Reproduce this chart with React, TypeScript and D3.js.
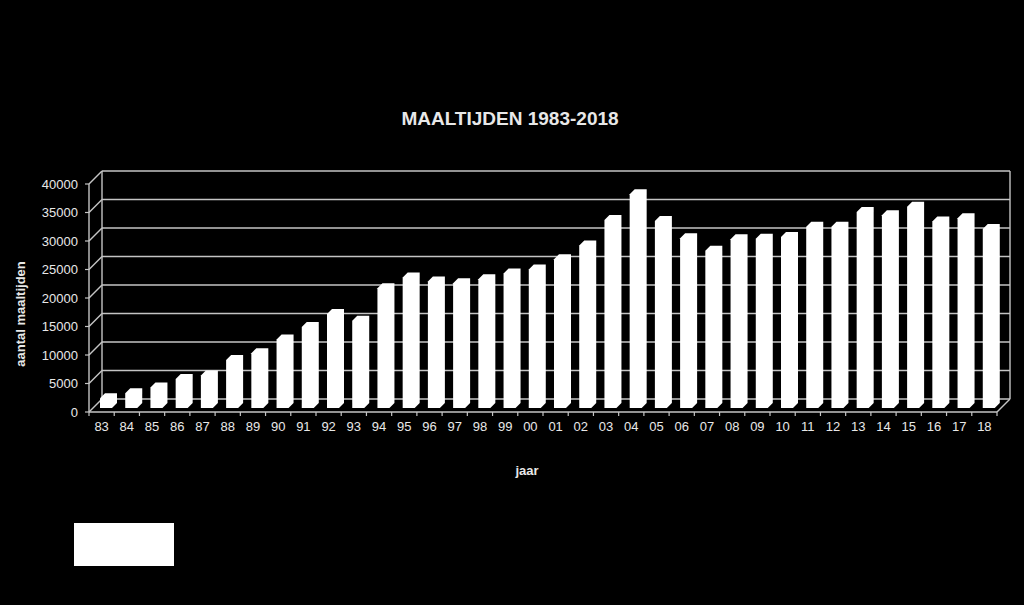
import React from 'react';
import * as d3 from 'd3';

const years = ['83', '84', '85', '86', '87', '88', '89', '90', '91', '92', '93', '94', '95', '96', '97', '98', '99', '00', '01', '02', '03', '04', '05', '06', '07', '08', '09', '10', '11', '12', '13', '14', '15', '16', '17', '18'];
const meals = [1700, 2600, 3600, 5100, 5700, 8400, 9600, 12000, 14200, 16500, 15300, 21000, 22900, 22200, 21900, 22600, 23600, 24300, 26100, 28500, 33000, 37500, 32800, 29800, 27600, 29600, 29700, 30000, 31800, 31800, 34400, 33800, 35300, 32700, 33300, 31400];
const yTicks = [0, 5000, 10000, 15000, 20000, 25000, 30000, 35000, 40000];

const W = 1024;
const H = 605;
const FONT = '"Liberation Sans", Arial, sans-serif';
const GRID = '#c4c4c4';
const TEXT = '#e8e8e8';

// front plane of the 3d box, and how far back the wall sits
const left = 89;
const right = 997;
const bottom = 412;
const top = 184;
const depth = 13;

// bar geometry (front face inset, face width, bar depth)
const inset = 4;
const barW = 12;
const barD = 5;

const App = () => {
  const x = d3.scaleBand<string>().domain(years).range([left, right]);
  const y = d3.scaleLinear().domain([0, 40000]).range([bottom, top]);

  const barPath = (yr: string, v: number) => {
    const x0 = (x(yr) as number) + inset + 7;
    const yb = bottom - inset;
    const h = y(0) - y(v);
    const yt = yb - h;
    const p = d3.path();
    p.moveTo(x0, yb);
    p.lineTo(x0, yt);
    p.lineTo(x0 + barD, yt - barD);
    p.lineTo(x0 + barW + barD, yt - barD);
    p.lineTo(x0 + barW + barD, yb - barD);
    p.lineTo(x0 + barW, yb);
    p.closePath();
    return p.toString();
  };

  return (
    <svg width={W} height={H} style={{ position: 'absolute', left: 0, top: 0, background: '#000' }}>
      <rect width={W} height={H} fill="#000" />
      <text x={510} y={125} textAnchor="middle" fill={TEXT} fontFamily={FONT} fontWeight="bold" fontSize={19}>
        MAALTIJDEN 1983-2018
      </text>

      {/* back wall gridlines */}
      {yTicks.map((t) => (
        <line key={'g' + t} x1={left + depth} x2={right + depth} y1={y(t) - depth} y2={y(t) - depth} stroke={GRID} strokeWidth={1.6} />
      ))}
      {/* side wall diagonals */}
      {yTicks.map((t) => (
        <line key={'d' + t} x1={left} x2={left + depth} y1={y(t)} y2={y(t) - depth} stroke={GRID} strokeWidth={1.4} />
      ))}
      <line x1={left + depth} x2={left + depth} y1={y(40000) - depth} y2={y(0) - depth} stroke={GRID} strokeWidth={1.4} />
      <line x1={right + depth} x2={right + depth} y1={y(40000) - depth} y2={y(0) - depth} stroke={GRID} strokeWidth={1.4} />

      {/* front value axis */}
      <line x1={left} x2={left} y1={y(40000)} y2={y(0)} stroke={GRID} strokeWidth={1.4} />
      {yTicks.map((t) => (
        <g key={'t' + t}>
          <line x1={left - 4} x2={left} y1={y(t)} y2={y(t)} stroke={GRID} strokeWidth={1.2} />
          <text x={78} y={y(t)} dy="0.35em" textAnchor="end" fill={TEXT} fontFamily={FONT} fontSize={13}>
            {t}
          </text>
        </g>
      ))}

      {/* bars */}
      {years.map((yr, i) => (
        <path key={yr} d={barPath(yr, meals[i])} fill="#ffffff" />
      ))}

      {/* floor edges */}
      <line x1={left} x2={right} y1={bottom} y2={bottom} stroke={GRID} strokeWidth={1.4} />
      <line x1={right} x2={right + depth} y1={bottom} y2={bottom - depth} stroke={GRID} strokeWidth={1.4} />
      {years.map((yr) => (
        <line key={'xt' + yr} x1={x(yr) as number} x2={x(yr) as number} y1={bottom} y2={bottom + 4} stroke={GRID} strokeWidth={1.2} />
      ))}
      <line x1={right} x2={right} y1={bottom} y2={bottom + 4} stroke={GRID} strokeWidth={1.2} />
      {years.map((yr) => (
        <text key={'xl' + yr} x={(x(yr) as number) + x.bandwidth() / 2} y={431} textAnchor="middle" fill={TEXT} fontFamily={FONT} fontSize={13}>
          {yr}
        </text>
      ))}

      <text x={527} y={475} textAnchor="middle" fill={TEXT} fontFamily={FONT} fontWeight="bold" fontSize={13}>
        jaar
      </text>
      <text transform="translate(25,314) rotate(-90)" textAnchor="middle" fill={TEXT} fontFamily={FONT} fontWeight="bold" fontSize={13}>
        aantal maaltijden
      </text>

      <rect x={74} y={523} width={100} height={43} fill="#ffffff" />
    </svg>
  );
};

export default App;
